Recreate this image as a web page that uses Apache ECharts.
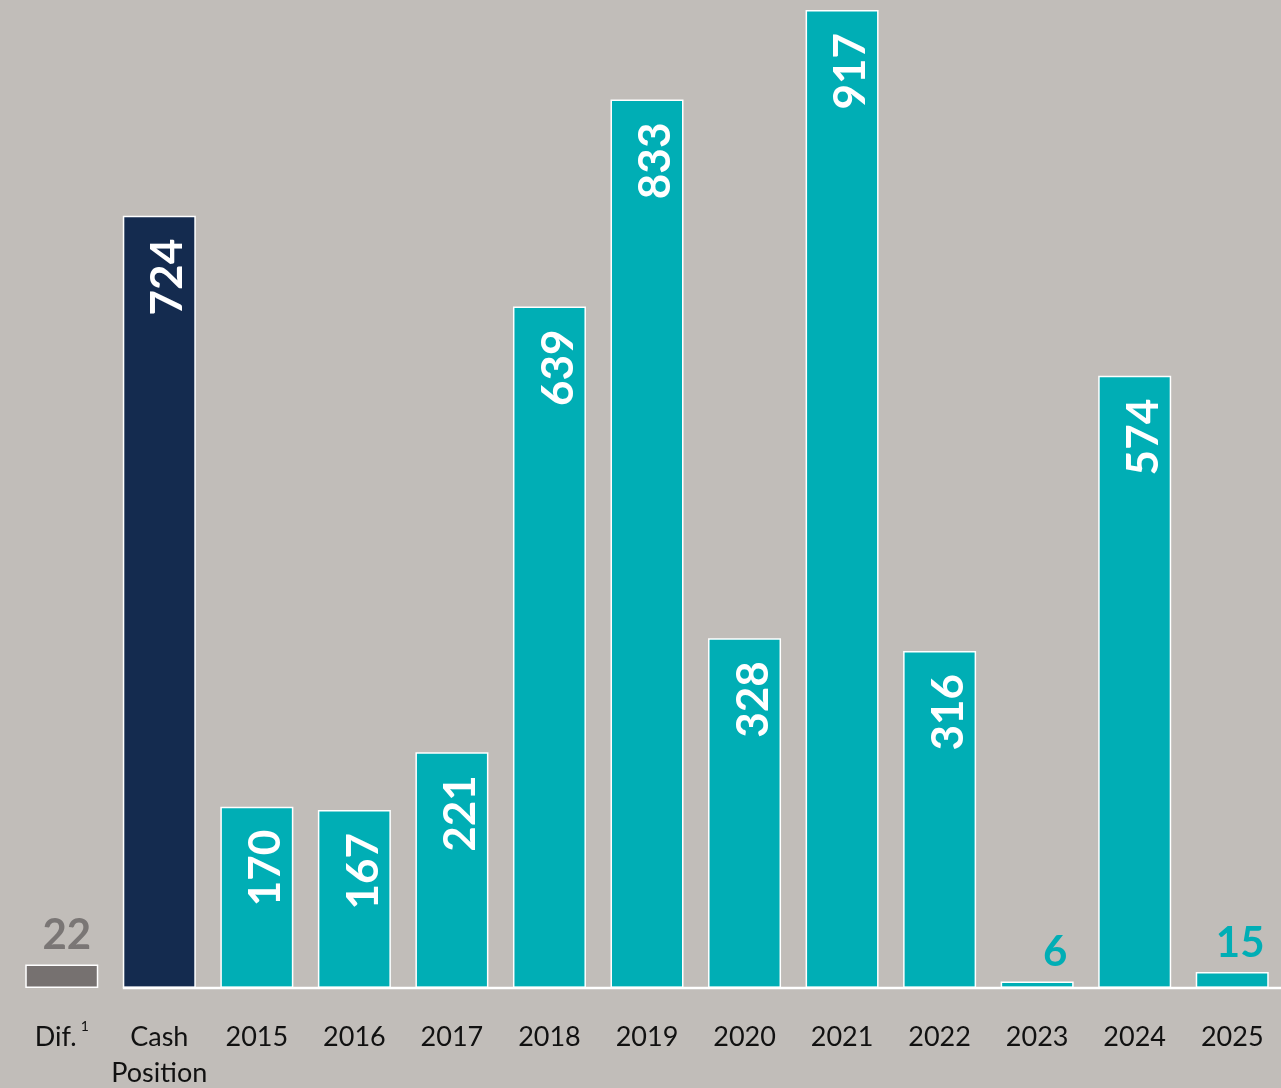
<!DOCTYPE html>
<html>
<head>
<meta charset="utf-8">
<script src="https://cdn.jsdelivr.net/npm/echarts@6/dist/echarts.min.js"></script>
<style>
html,body{margin:0;padding:0;background:#c1bdb9;}
#c{width:1281px;height:1088px;}
</style>
</head>
<body>
<div id="c"></div>
<script>
const categories = ['Dif.', 'Cash\nPosition', '2015', '2016', '2017', '2018', '2019', '2020', '2021', '2022', '2023', '2024', '2025'];
const values = [22, 724, 170, 167, 221, 639, 833, 328, 917, 316, 6, 574, 15];
const kinds = ['dif', 'cash', 'y', 'y', 'y', 'y', 'y', 'y', 'y', 'y', 'y', 'y', 'y'];

const COLORS = { dif: '#767170', cash: '#142b4f', y: '#00aeb5' };
const BAR_W = 73;

const data = values.map((v, i) => {
  const k = kinds[i];
  const small = v < 100;
  const item = {
    value: v,
    itemStyle: { color: COLORS[k] }
  };
  if (small) {
    item.label = {
      show: true,
      position: 'top',
      rotate: 0,
      align: 'center',
      verticalAlign: 'bottom',
      distance: 8,
      offset: [k === 'dif' ? 5 : (v < 10 ? 18 : 8), 0],
      color: k === 'dif' ? '#7a7675' : '#00aeb5',
      fontSize: 42,
      fontWeight: 'bold'
    };
  }
  return item;
});

const chart = echarts.init(document.getElementById('c'));
chart.setOption({
  backgroundColor: '#c1bdb9',
  animation: false,
  grid: { left: 13, right: 0, top: 10, bottom: 100, containLabel: false, outerBoundsMode: 'none' },
  xAxis: {
    type: 'category',
    data: categories,
    axisLine: { show: false },
    axisTick: { show: false },
    axisLabel: {
      margin: 31,
      color: '#111',
      fontSize: 27,
      fontFamily: 'Lato',
      lineHeight: 36,
      interval: 0,
      formatter: (v) => v === 'Dif.' ? 'Dif.{sup|1}' : v,
      rich: {
        sup: { fontSize: 14, verticalAlign: 'top', padding: [0, 0, 14, 4], fontFamily: 'Lato', color: '#111' }
      }
    }
  },
  yAxis: {
    type: 'value',
    min: 0,
    max: (e) => e.max,
    show: false,
    splitLine: { show: false }
  },
  series: [{
    type: 'bar',
    data: data,
    barWidth: BAR_W,
    itemStyle: { borderColor: '#ffffff', borderWidth: 1.5 },
    label: {
      show: true,
      position: 'insideTop',
      rotate: 90,
      align: 'right',
      verticalAlign: 'middle',
      distance: 23,
      offset: [0, 9],
      color: '#ffffff',
      fontSize: 44,
      fontWeight: 'bold',
      fontFamily: 'Lato'
    }
  }]
});

// baseline: from left edge of the Cash Position bar to right edge of plot
const x0 = chart.convertToPixel({ xAxisIndex: 0 }, categories[1]) - BAR_W / 2;
const y0 = chart.convertToPixel({ yAxisIndex: 0 }, 0);
chart.setOption({
  graphic: [{
    type: 'line',
    shape: { x1: x0, y1: y0, x2: 1281, y2: y0 },
    style: { stroke: '#ffffff', lineWidth: 2.5 },
    z: 10
  }]
});
</script>
</body>
</html>
